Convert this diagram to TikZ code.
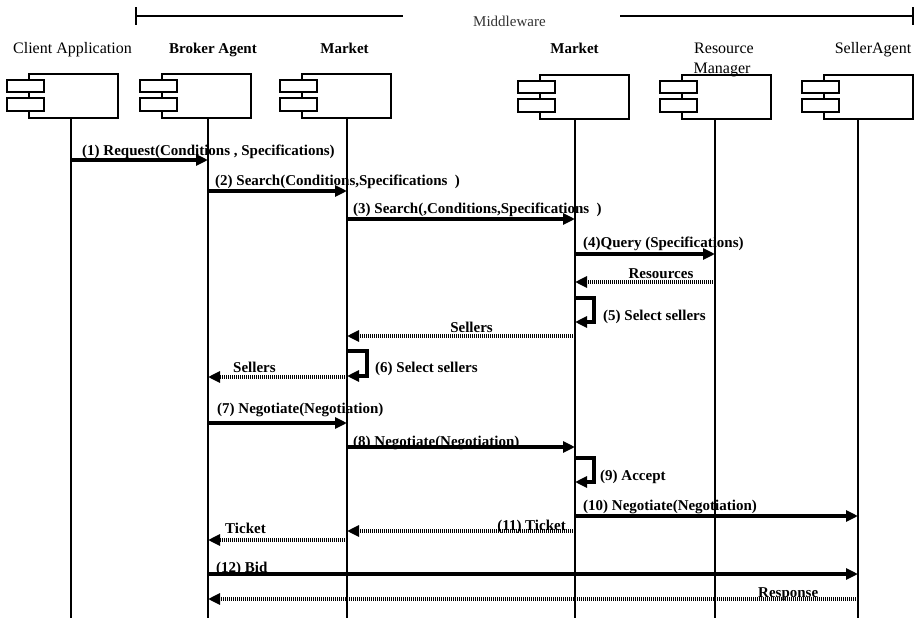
\documentclass[tikz,border=0pt]{standalone}
\usepackage{fontspec}
\setmainfont{Liberation Serif}
\usetikzlibrary{arrows.meta}
\begin{document}
\begin{tikzpicture}[x=1pt,y=-1pt,
  boxline/.style={line width=2.2pt},
  compbox/.style={draw,line width=2.2pt,fill=white,minimum width=89pt,minimum height=44pt,inner sep=0pt,anchor=north west},
  life/.style={line width=2.8pt},
  msg/.style={line width=3.6pt,-{Triangle[length=12pt,width=11pt]}},
  ret/.style={line width=3.2pt,dash pattern=on 1.4pt off 0.6pt,-{Triangle[length=12pt,width=11pt]}},
  lbl/.style={font=\fontsize{15}{15}\selectfont\bfseries,anchor=base west,inner sep=0pt},
  lble/.style={lbl,anchor=base east},
  lblc/.style={lbl,anchor=base},
  hdr/.style={font=\fontsize{16}{16}\selectfont,anchor=base,inner sep=0pt},
  hdrb/.style={font=\fontsize{15}{15}\selectfont\bfseries,anchor=base,inner sep=0pt},
  bracket/.style={line width=2.4pt},
  comp/.pic={
    \node[compbox] (-box) at (0,0) {};
    \draw[boxline,fill=white] (-21,7) rectangle (16,19);
    \draw[boxline,fill=white] (-21,25) rectangle (16,38);
  }
]
\useasboundingbox (0,0) rectangle (918,618);

% Middleware bracket
\coordinate (mwl) at (136,16);
\coordinate (mwlend) at (403,16);
\coordinate (mwr) at (913,16);
\coordinate (mwrend) at (620,16);
\draw[bracket] (mwl) -- (mwlend);
\draw[bracket] ([yshift=-9pt]mwl) -- ([yshift=9pt]mwl);
\draw[bracket] (mwrend) -- (mwr);
\draw[bracket] ([yshift=-9pt]mwr) -- ([yshift=9pt]mwr);
\node[font=\fontsize{15}{15}\selectfont,text=black!80,anchor=base west,inner sep=0pt] (mw) at (473,27) {Middleware};

% headers
\node[hdr] (hclient) at (72.5,54) {Client Application};
\node[hdrb] (hbroker) at (213,54) {Broker Agent};
\node[hdrb] (hmarket1) at (344.5,54) {Market};
\node[hdrb] (hmarket2) at (574.5,54) {Market};
\node[hdr] (hres1) at (724,54) {Resource};
\node[hdr] (hseller) at (873,54) {SellerAgent};

% lifeline tops and bottom
\coordinate (lc) at (71,117);
\coordinate (lb) at (208,117);
\coordinate (lm1) at (347,117);
\coordinate (lm2) at (575,118);
\coordinate (lr) at (715,118);
\coordinate (ls) at (858,118);
\coordinate (bot) at (0,618);
\foreach \l in {lc,lb,lm1,lm2,lr,ls}{
  \draw[life] (\l) -- (\l |- bot);
}

% components
\pic (pclient) at (28,73) {comp};
\pic (pbroker) at (161,73) {comp};
\pic (pmarket1) at (301,73) {comp};
\pic (pmarket2) at (539,74) {comp};
\pic (pres) at (681,74) {comp};
\pic (pseller) at (823,74) {comp};
\node[hdr] (hres2) at (722,74) {Manager};

% messages
\draw[msg] (lc|-0,160) -- (lb|-0,160);
\node[lbl] (t1) at (82,155) {(1) Request(Conditions , Specifications)};
\draw[msg] (lb|-0,191) -- (lm1|-0,191);
\node[lbl] (t2) at (215,185) {(2) Search(Conditions,Specifications\ \ )};
\draw[msg] (lm1|-0,219) -- (lm2|-0,219);
\node[lbl] (t3) at (353,213) {(3) Search(,Conditions,Specifications\ \ )};
\draw[msg] (lm2|-0,254) -- (lr|-0,254);
\node[lbl] (t4) at (583,247) {(4)Query (Specifications)};
\draw[ret] (lr|-0,282) -- (lm2|-0,282);
\node[lblc] (tres) at (661,278) {Resources};
\draw[msg] (lm2|-0,298) -- ++(19,0) -- ++(0,24) -- (lm2|-0,322);
\node[lbl] (t5) at (603,320) {(5) Select sellers};
\draw[ret] (lm2|-0,336) -- (lm1|-0,336);
\node[lble] (ts1) at (493,332) {Sellers};
\draw[msg] (lm1|-0,351) -- ++(20,0) -- ++(0,25) -- (lm1|-0,376);
\node[lbl] (t6) at (375,372) {(6) Select sellers};
\draw[ret] (lm1|-0,377) -- (lb|-0,377);
\node[lbl] (ts2) at (233,372) {Sellers};
\draw[msg] (lb|-0,423) -- (lm1|-0,423);
\node[lbl] (t7) at (217,413) {(7) Negotiate(Negotiation)};
\draw[msg] (lm1|-0,447) -- (lm2|-0,447);
\node[lbl] (t8) at (353,446) {(8) Negotiate(Negotiation)};
\draw[msg] (lm2|-0,458) -- ++(19,0) -- ++(0,24) -- (lm2|-0,482);
\node[lbl] (t9) at (600,480) {(9) Accept};
\draw[msg] (lm2|-0,516) -- (ls|-0,516);
\node[lbl] (t10) at (583,510) {(10) Negotiate(Negotiation)};
\draw[ret] (lm2|-0,531) -- (lm1|-0,531);
\node[lble] (t11) at (566,530) {(11) Ticket};
\draw[ret] (lm1|-0,540) -- (lb|-0,540);
\node[lbl] (tt) at (225,533) {Ticket};
\draw[msg] (lb|-0,574) -- (ls|-0,574);
\node[lbl] (t12) at (216,572) {(12) Bid};
\draw[ret] (ls|-0,599) -- (lb|-0,599);
\node[lbl] (tresp) at (758,597) {Response};
\end{tikzpicture}
\end{document}
